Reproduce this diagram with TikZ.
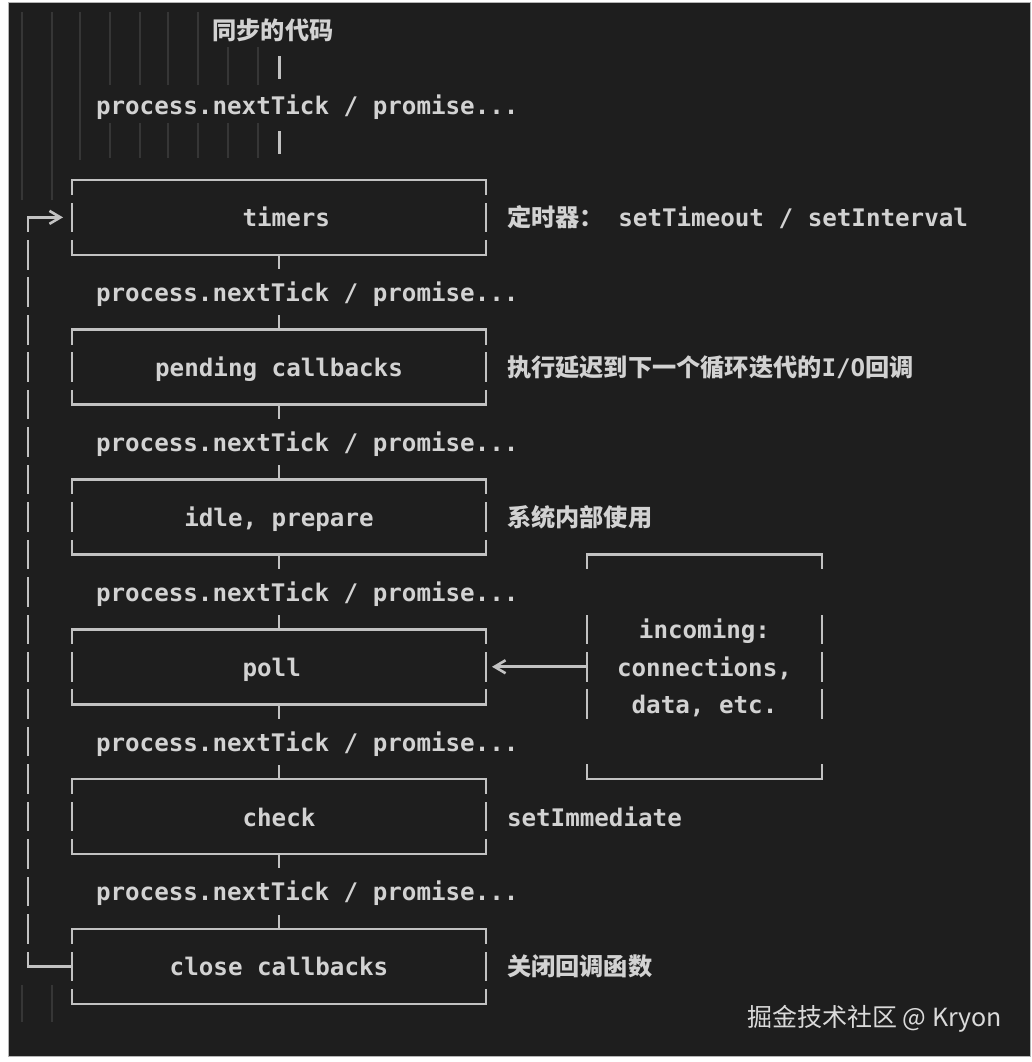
\documentclass[tikz,border=0pt]{standalone}
\usepackage{fontspec}
\setmonofont{DejaVu Sans Mono}
\newfontfamily\cjk{Noto Sans CJK SC}
\usetikzlibrary{arrows.meta}
\definecolor{bg}{HTML}{1E1E1E}
\definecolor{ink}{HTML}{D2D2D2}
\definecolor{wirec}{HTML}{C2C2C2}
\definecolor{guidec}{HTML}{363636}
\definecolor{rimc}{HTML}{B4B4B4}
\definecolor{mark}{HTML}{DADADA}
\newcommand\codefont{\ttfamily\bfseries\fontsize{24.2}{37.45}\selectfont}
\newcommand\rowstrut{\rule[-9.25pt]{0pt}{37.45pt}}
\tikzset{
  wire/.style={draw=wirec, line width=2.6pt, line cap=rect},
  rowdash/.style={dash pattern=on 27pt off 10.45pt, dash phase=13.5pt},
  inrowdash/.style={dash pattern=on 13.5pt off 47.9pt on 27pt off 10.45pt on 27pt off 10.45pt on 27pt off 47.9pt on 13.5pt off 1pt},
  tickwire/.style={dash pattern=on 13pt off 48.9pt on 13pt off 1pt},
  pipe/.style={draw=wirec, line width=3pt, shorten <=7.5pt, shorten >=7.5pt},
  barb/.style={-{Straight Barb[length=11pt,width=13pt]}},
  code/.style={font=\codefont, text=ink, inner sep=0pt, outer sep=0pt,
    text height=28.2pt, text depth=9.25pt},
  note/.style={code, anchor=west},
  guide/.style={draw=guidec, line width=1.5pt},
  asciibox/.style={code, minimum width=414pt, minimum height=74.9pt,
    append after command={
      (\tikzlastnode.north west) edge[wire] (\tikzlastnode.north east)
      (\tikzlastnode.south west) edge[wire] (\tikzlastnode.south east)
      (\tikzlastnode.north west) edge[wire,#1] (\tikzlastnode.south west)
      (\tikzlastnode.north east) edge[wire,#1] (\tikzlastnode.south east)}},
  asciibox/.default=rowdash
}

\begin{document}
\begin{tikzpicture}[x=1pt, y=-37.45pt]
  \useasboundingbox (0,-0.804) rectangle (1032,27.554);
  \fill[white] (0,-0.804) rectangle (1032,27.554);
  \draw[fill=bg, draw=rimc, line width=1pt] (8,-0.75) rectangle (1030,27.42);

  % editor indent guides
  \foreach \x in {22,52} \draw[guide] (\x,-0.48) -- (\x,4.54);
  \draw[guide] (80,-0.48) -- (80,3.47);
  \foreach \x in {110,140,168,198} \draw[guide] (\x,-0.48) -- (\x,1.47);
  \foreach \x in {228,258} \draw[guide] (\x,0.45) -- (\x,1.47);
  \foreach \x in {110,140,168,198,228,258} \draw[guide] (\x,2.48) -- (\x,3.42);
  \foreach \x in {22,52} \draw[guide] (\x,25.5) -- (\x,26.48);

  \node[code, font=\codefont\cjk] (sync) at (273,0) {同步的代码};
  \foreach \r [count=\i from 0] in {2,7,11,15,19,23}
    \node[note] (tick\i) at (96,\r) {process.nextTick / promise...};

  \node[asciibox] (timers)  at (279,5)  {\hspace*{14.55pt}timers};
  \node[asciibox] (pending) at (279,9)  {pending callbacks};
  \node[asciibox] (idle)    at (279,13) {idle, prepare};
  \node[asciibox] (poll)    at (279,17) {poll\hspace*{14.55pt}};
  \node[asciibox] (check)   at (279,21) {check};
  \node[asciibox] (close)   at (279,25) {close callbacks};

  \node[note] (timersnote)  at (507,5)  {{\cjk 定时器：} setTimeout / setInterval};
  \node[note] (pendingnote) at (507,9)  {{\cjk 执行延迟到下一个循环迭代的}I/O{\cjk 回调}};
  \node[note] (idlenote)    at (507,13) {{\cjk 系统内部使用}};
  \node[note] (checknote)   at (507,21) {setImmediate};
  \node[note] (closenote)   at (507,25) {{\cjk 关闭回调函数}};

  \node[asciibox=inrowdash, minimum width=235pt, minimum height=224.7pt,
    align=center, text height={}, text depth={}] (inbox) at (704.5,17)
    {\rowstrut incoming:\\connections,\\data, etc.\rowstrut};

  % flow
  \draw[pipe] (sync.south -| timers.north) -- (tick0.north -| timers.north);
  \draw[pipe, shorten >=26pt] (tick0.south -| timers.north) -- (timers.north);
  \draw[wire, tickwire] (timers) -- (pending);
  \draw[wire, tickwire] (pending) -- (idle);
  \draw[wire, tickwire] (idle) -- (poll);
  \draw[wire, tickwire] (poll) -- (check);
  \draw[wire, tickwire] (check) -- (close);
  \draw[wire, barb, shorten >=6pt] (inbox) -- (poll);

  % back to timers
  \coordinate (loopx) at (28,0);
  \draw[wire] (close.west) -- (close.west -| loopx)
    edge[rowdash] (timers.west -| loopx);
  \draw[wire, barb, shorten >=9pt] (timers.west -| loopx) -- (timers.west);

  \node[font=\cjk\fontsize{25}{30}\selectfont, text=mark, anchor=west,
    inner sep=0pt] (credit) at (747,26.405) {掘金技术社区 @ Kryon};
\end{tikzpicture}
\end{document}
